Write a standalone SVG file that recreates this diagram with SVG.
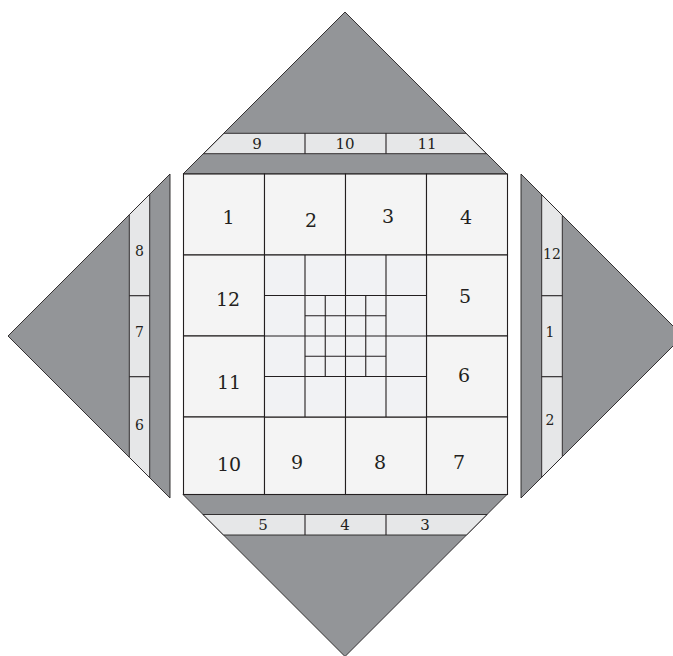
<svg xmlns="http://www.w3.org/2000/svg" width="673" height="656" viewBox="0 0 673 656">
  <style>
    .tri { fill: #939598; stroke: #231f20; stroke-width: 0.9; }
    .band { fill: #e6e7e8; stroke: #231f20; stroke-width: 0.9; }
    .cell { fill: #f4f4f4; stroke: #231f20; stroke-width: 1.1; }
    .inner { fill: #f1f2f4; stroke: #231f20; stroke-width: 1.1; }
    .ln { stroke: #231f20; stroke-width: 1.1; fill: none; }
    .lg { stroke: #6d6e71; stroke-width: 1.3; fill: none; }
    .big { font-family: "DejaVu Serif", "Liberation Serif", serif; font-size: 19px; fill: #231f20; text-anchor: middle; }
    .small { font-family: "DejaVu Serif", "Liberation Serif", serif; font-size: 15px; fill: #231f20; text-anchor: middle; }
    .side { font-family: "DejaVu Serif", "Liberation Serif", serif; font-size: 14px; fill: #231f20; text-anchor: middle; }
  </style>
  <rect width="673" height="656" fill="#ffffff"/>

  <g id="top-triangle">
    <polygon class="tri" points="345,12 507,174 183,174"/>
    <polygon class="band" points="224,133.3 466,133.3 486.5,153.7 203.5,153.7"/>
    <line class="ln" x1="305" y1="133.3" x2="305" y2="153.7"/>
    <line class="ln" x1="386" y1="133.3" x2="386" y2="153.7"/>
    <text class="small" x="257" y="148.5">9</text>
    <text class="small" x="345" y="148.5">10</text>
    <text class="small" x="427" y="148.5">11</text>
  </g>

  <g id="bottom-triangle">
    <polygon class="tri" points="183,494.5 507,494.5 345,656.5"/>
    <polygon class="band" points="203,514.5 487,514.5 466.5,535 223.5,535"/>
    <line class="ln" x1="305" y1="514.5" x2="305" y2="535"/>
    <line class="ln" x1="386" y1="514.5" x2="386" y2="535"/>
    <text class="small" x="263" y="530">5</text>
    <text class="small" x="345" y="530">4</text>
    <text class="small" x="425" y="530">3</text>
  </g>

  <g id="left-triangle">
    <polygon class="tri" points="8,336 170,174 170,498"/>
    <polygon class="band" points="129.3,214.7 149.7,194.3 149.7,477.7 129.3,457.3"/>
    <line class="ln" x1="129.3" y1="295.7" x2="149.7" y2="295.7"/>
    <line class="ln" x1="129.3" y1="376.7" x2="149.7" y2="376.7"/>
    <text class="side" x="139.5" y="256">8</text>
    <text class="side" x="139.5" y="337">7</text>
    <text class="side" x="139.5" y="430">6</text>
  </g>

  <g id="right-triangle">
    <polygon class="tri" points="521,174 683,336 521,498"/>
    <polygon class="band" points="541.7,194.7 562.3,215.3 562.3,456.7 541.7,477.3"/>
    <line class="ln" x1="541.7" y1="295.7" x2="562.3" y2="295.7"/>
    <line class="ln" x1="541.7" y1="376.7" x2="562.3" y2="376.7"/>
    <text class="side" x="552" y="259">12</text>
    <text class="side" x="550" y="337">1</text>
    <text class="side" x="550" y="425">2</text>
  </g>

  <g id="main-square">
    <g id="cell-1"><rect class="cell" x="183.5" y="174" width="81" height="81"/><text class="big" x="228.5" y="224">1</text></g>
    <g id="cell-2"><rect class="cell" x="264.5" y="174" width="81" height="81"/><text class="big" x="311" y="227">2</text></g>
    <g id="cell-3"><rect class="cell" x="345.5" y="174" width="81" height="81"/><text class="big" x="388" y="223">3</text></g>
    <g id="cell-4"><rect class="cell" x="426.5" y="174" width="81" height="81"/><text class="big" x="466" y="224">4</text></g>
    <g id="cell-12"><rect class="cell" x="183.5" y="255" width="81" height="81"/><text class="big" x="228" y="306">12</text></g>
    <g id="cell-5"><rect class="cell" x="426.5" y="255" width="81" height="81"/><text class="big" x="465" y="303">5</text></g>
    <g id="cell-11"><rect class="cell" x="183.5" y="336" width="81" height="81"/><text class="big" x="229" y="389">11</text></g>
    <g id="cell-6"><rect class="cell" x="426.5" y="336" width="81" height="81"/><text class="big" x="464" y="382">6</text></g>
    <g id="cell-10"><rect class="cell" x="183.5" y="417" width="81" height="77.5"/><text class="big" x="229" y="471">10</text></g>
    <g id="cell-9"><rect class="cell" x="264.5" y="417" width="81" height="77.5"/><text class="big" x="297" y="469">9</text></g>
    <g id="cell-8"><rect class="cell" x="345.5" y="417" width="81" height="77.5"/><text class="big" x="380" y="469">8</text></g>
    <g id="cell-7"><rect class="cell" x="426.5" y="417" width="81" height="77.5"/><text class="big" x="459" y="469">7</text></g>

    <g id="inner-grid">
      <rect class="inner" x="264.5" y="255" width="162" height="162"/>
      <path class="ln" d="M305,255 V417 M345.5,255 V417 M386,255 V417 M264.5,295.5 H426.5 M264.5,336 H426.5 M264.5,376.5 H426.5"/>
      <path class="ln" d="M325.25,295.5 V376.5 M365.75,295.5 V376.5 M305,315.75 H386 M305,356.25 H386"/>
    </g>
  </g>
</svg>
